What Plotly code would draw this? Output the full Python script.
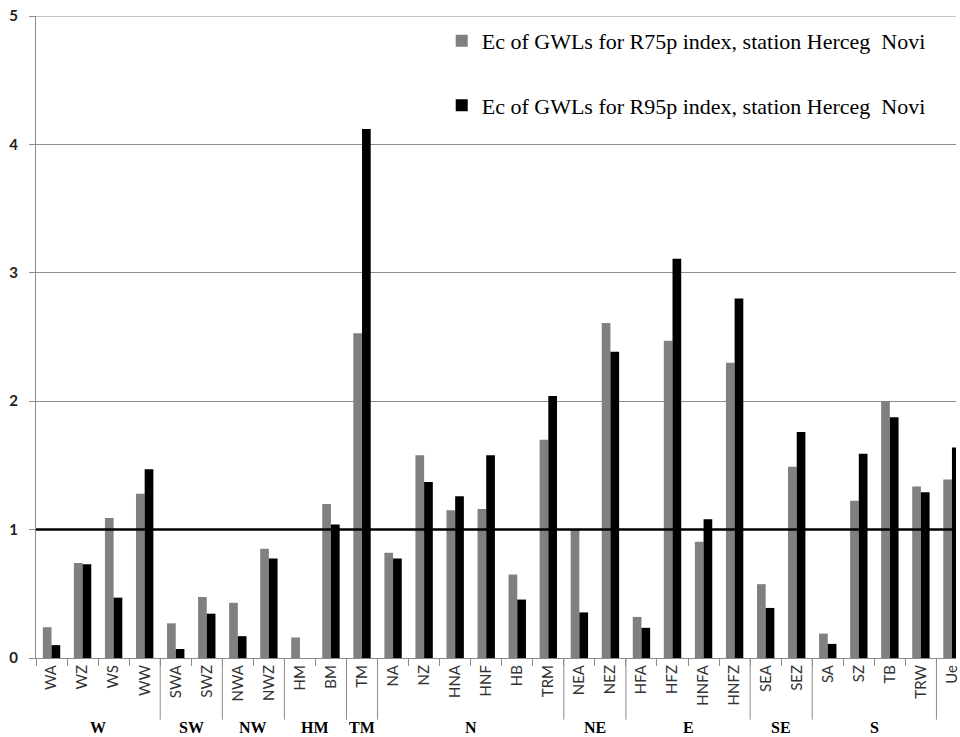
import plotly.graph_objects as go

categories = ["WA", "WZ", "WS", "WW", "SWA", "SWZ", "NWA", "NWZ", "HM", "BM", "TM",
              "NA", "NZ", "HNA", "HNF", "HB", "TRM", "NEA", "NEZ", "HFA", "HFZ", "HNFA",
              "HNFZ", "SEA", "SEZ", "SA", "SZ", "TB", "TRW", "Ue"]
r75p = [0.24, 0.74, 1.09, 1.28, 0.27, 0.475, 0.43, 0.85, 0.16, 1.20, 2.53,
        0.82, 1.58, 1.15, 1.16, 0.65, 1.70, 1.00, 2.61, 0.32, 2.47, 0.905,
        2.30, 0.575, 1.49, 0.19, 1.225, 2.00, 1.335, 1.39]
r95p = [0.10, 0.73, 0.47, 1.47, 0.07, 0.345, 0.17, 0.775, 0.0, 1.04, 4.12,
        0.775, 1.37, 1.26, 1.58, 0.455, 2.04, 0.355, 2.385, 0.235, 3.11, 1.08,
        2.80, 0.39, 1.76, 0.11, 1.59, 1.875, 1.29, 1.64]
groups = ["W", "SW", "NW", "HM", "TM", "N", "NE", "E", "SE", "S"]
group_starts = [0, 4, 6, 8, 10, 11, 17, 19, 23, 25]
group_ends = [3, 5, 7, 9, 10, 16, 18, 22, 24, 28]
y_ticks = [0, 1, 2, 3, 4, 5]

fig = go.Figure()
fig.add_trace(go.Bar(x=categories, y=r75p, name="Ec of GWLs for R75p index, station Herceg  Novi",
                     marker=dict(color="#808080", line=dict(width=0)), legendgroup="a"))
fig.add_trace(go.Bar(x=categories, y=r95p, name="Ec of GWLs for R95p index, station Herceg  Novi",
                     marker=dict(color="#000000", line=dict(width=0)), legendgroup="b"))

shapes = []
# top gridline at 5
shapes.append(dict(type="line", xref="paper", x0=0, x1=1, yref="y", y0=5, y1=5,
                   line=dict(color="#8c8c8c", width=1)))
# reference line at 1
shapes.append(dict(type="line", xref="paper", x0=0, x1=1, yref="y", y0=1, y1=1,
                   line=dict(color="black", width=2.5)))
# group separators below axis
for e in group_ends:
    shapes.append(dict(type="line", xref="x", x0=e + 0.5, x1=e + 0.5, yref="paper", y0=0, y1=-0.096,
                       line=dict(color="#8c8c8c", width=1)))

annotations = []
for g, s, e in zip(groups, group_starts, group_ends):
    annotations.append(dict(x=(s + e) / 2, xref="x", y=-0.108, yref="paper", text=g, showarrow=False,
                            font=dict(family="Liberation Serif", size=16, color="black", weight="bold"),
                            yanchor="middle", xanchor="center"))

fig.update_layout(
    width=960, height=737,
    margin=dict(l=36, r=0, t=16, b=79),
    plot_bgcolor="white", paper_bgcolor="white",
    barmode="group", bargap=0.44, bargroupgap=0,
    shapes=shapes, annotations=annotations,
    legend=dict(x=0.441, y=0.994, xanchor="left", yanchor="top",
                font=dict(family="Liberation Serif", size=22, color="black"),
                bgcolor="rgba(0,0,0,0)", tracegroupgap=33, traceorder="grouped"),
    xaxis=dict(range=[-0.5, 29.13], tickangle=-90, tickson="boundaries", ticks="outside",
               ticklen=7, tickcolor="#8c8c8c", showline=True, linecolor="#8c8c8c",
               tickfont=dict(family="Lato", size=15, color="#333333"), showgrid=False),
    yaxis=dict(range=[0, 5.0001], tickvals=y_ticks, ticks="outside", ticklen=6, tickcolor="#8c8c8c",
               showline=True, linecolor="#8c8c8c", showgrid=True, gridcolor="#8c8c8c", gridwidth=1,
               ticklabelstandoff=8,
               tickfont=dict(family="Lato", size=15, color="#222222", weight="bold"), zeroline=False),
)

fig.write_html("out.html", config={"displayModeBar": False},
               post_script="document.body.style.margin='0';document.body.style.overflow='hidden';")
